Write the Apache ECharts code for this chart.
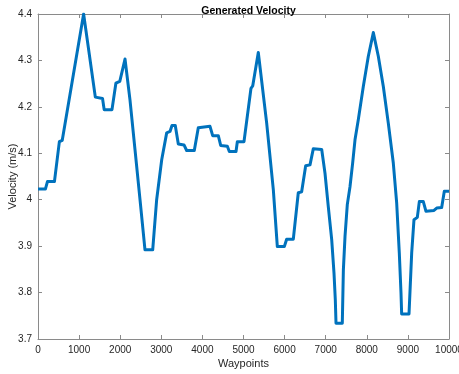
<!DOCTYPE html>
<html>
<head>
<meta charset="utf-8">
<script src="https://cdn.jsdelivr.net/npm/echarts@6/dist/echarts.min.js"></script>
<style>
  html, body { margin: 0; padding: 0; background: #fff; }
  #chart { width: 459px; height: 374px; }
</style>
</head>
<body>
<div id="chart"></div>
<script>
// waypoint positions and velocity (m/s)
var waypoints = [
  0, 180, 230, 400, 520, 590, 1110, 1395, 1570, 1610, 1800, 1895, 1990, 2117,
  2238, 2360, 2482, 2603, 2791, 2887, 3010, 3131, 3212, 3260, 3340, 3414, 3552, 3617, 3803,
  3900, 4185, 4250, 4387, 4445, 4607, 4655, 4818, 4850, 5012, 5182, 5224, 5360,
  5564, 5726, 5823, 5993, 6050, 6212, 6333, 6415, 6513, 6618, 6699, 6903, 6983,
  7063, 7146, 7202, 7234, 7251, 7404, 7430, 7470, 7526, 7591, 7657, 7713, 7793,
  7915, 8037, 8159, 8280, 8402, 8523, 8645, 8727, 8791, 8832, 8848, 9027, 9092,
  9148, 9229, 9278, 9375, 9440, 9635, 9700, 9822, 9886, 10000
]
var velocity = [
  4.023, 4.023, 4.039, 4.039, 4.125, 4.128, 4.4, 4.221, 4.218, 4.194, 4.194, 4.251, 4.255, 4.303,
  4.215, 4.108, 4.0, 3.892, 3.892, 4.0, 4.086, 4.144, 4.147, 4.160, 4.160, 4.120, 4.118, 4.106, 4.106,
  4.155, 4.158, 4.138, 4.138, 4.117, 4.115, 4.104, 4.104, 4.125, 4.125, 4.240, 4.245, 4.317,
  4.165, 4.021, 3.899, 3.899, 3.915, 3.915, 4.015, 4.017, 4.073, 4.075, 4.110, 4.108, 4.057,
  3.985, 3.914, 3.842, 3.784, 3.734, 3.734, 3.849, 3.921, 3.990, 4.028, 4.080, 4.129, 4.172,
  4.244, 4.309, 4.360, 4.309, 4.244, 4.165, 4.079, 3.993, 3.885, 3.799, 3.754, 3.754, 3.885,
  3.957, 3.962, 3.996, 3.996, 3.975, 3.977, 3.982, 3.983, 4.018, 4.018
]
var xTicks = [0, 10000, 1000]
var yTicks = [3.7, 4.4, 0.1]

var chart = echarts.init(document.getElementById('chart'))
var axisColor = '#8a8a8a'
var textColor = '#262626'
var font = 'Liberation Sans, Arial, sans-serif'

function boxAxis (pos, range, showLabel) {
  return {
    type: 'value',
    position: pos,
    min: range[0],
    max: range[1],
    interval: range[2],
    splitLine: { show: false },
    axisLine: { show: true, onZero: false, lineStyle: { color: axisColor, width: 1 } },
    axisTick: { show: true, inside: true, length: 4, lineStyle: { color: axisColor } },
    axisLabel: {
      show: showLabel,
      color: textColor,
      fontFamily: font,
      fontSize: 10,
      margin: 6,
      formatter: function (v) { return String(parseFloat(v.toFixed(1))) }
    }
  }
}

var data = waypoints.map(function (x, i) { return [x, velocity[i]] })

var xMain = boxAxis('bottom', xTicks, true)
xMain.name = 'Waypoints'
xMain.nameLocation = 'middle'
xMain.nameGap = 19
xMain.nameMoveOverlap = false
xMain.nameTextStyle = { color: textColor, fontFamily: font, fontSize: 11 }

var yMain = boxAxis('left', yTicks, true)
yMain.name = 'Velocity (m/s)'
yMain.nameLocation = 'middle'
yMain.nameGap = 20
yMain.nameMoveOverlap = false
yMain.nameTextStyle = { color: textColor, fontFamily: font, fontSize: 11 }

chart.setOption({
  animation: false,
  title: {
    text: 'Generated Velocity',
    left: 243.5,
    textAlign: 'center',
    top: 1,
    textStyle: { color: '#000', fontFamily: font, fontSize: 10.5, fontWeight: 'bold' }
  },
  grid: { left: 38, right: 10, top: 14, bottom: 35, containLabel: false, outerBoundsMode: 'none' },
  xAxis: [xMain, boxAxis('top', xTicks, false)],
  yAxis: [yMain, boxAxis('right', yTicks, false)],
  series: [
    {
      type: 'line',
      xAxisIndex: 0,
      yAxisIndex: 0,
      showSymbol: false,
      lineStyle: { color: '#0072BD', width: 3, join: 'round' },
      data: data
    }
  ]
})
</script>
</body>
</html>
